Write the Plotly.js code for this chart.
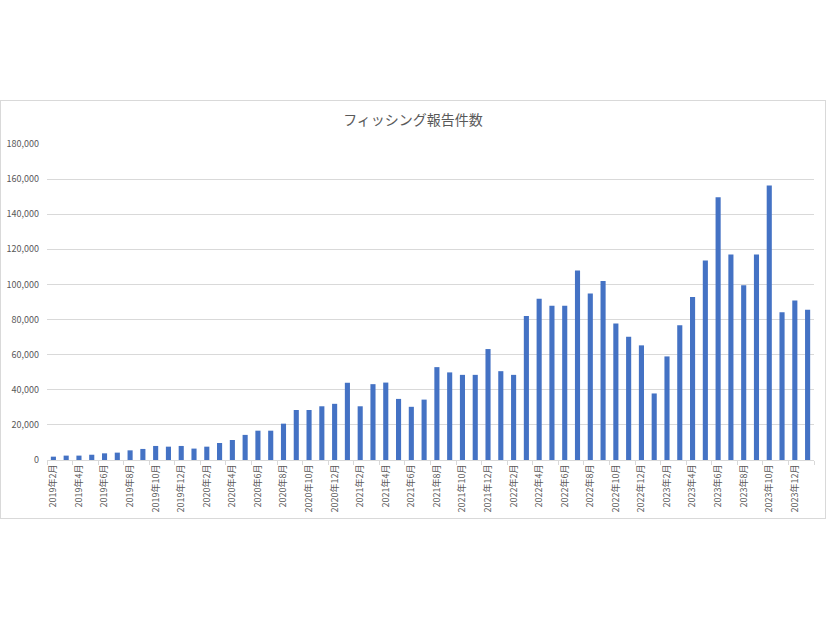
<!DOCTYPE html>
<html>
<head>
<meta charset="utf-8">
<script src="https://cdn.plot.ly/plotly-3.0.1.min.js"></script>
<style>
html,body{margin:0;padding:0;background:#fff;}
#wrap{position:absolute;left:0;top:100px;width:826px;height:419px;box-sizing:border-box;border:1px solid #d9d9d9;}
#chart{width:824px;height:417px;}
</style>
</head>
<body>
<div id="wrap"><div id="chart"></div></div>
<script>
const months = [
 "2019年2月","2019年3月","2019年4月","2019年5月","2019年6月","2019年7月","2019年8月","2019年9月","2019年10月","2019年11月","2019年12月",
 "2020年1月","2020年2月","2020年3月","2020年4月","2020年5月","2020年6月","2020年7月","2020年8月","2020年9月","2020年10月","2020年11月","2020年12月",
 "2021年1月","2021年2月","2021年3月","2021年4月","2021年5月","2021年6月","2021年7月","2021年8月","2021年9月","2021年10月","2021年11月","2021年12月",
 "2022年1月","2022年2月","2022年3月","2022年4月","2022年5月","2022年6月","2022年7月","2022年8月","2022年9月","2022年10月","2022年11月","2022年12月",
 "2023年1月","2023年2月","2023年3月","2023年4月","2023年5月","2023年6月","2023年7月","2023年8月","2023年9月","2023年10月","2023年11月","2023年12月",
 "2024年1月"
];
const reports = [
 1900,2500,2500,3000,3800,4200,5500,6300,8000,7600,8000,
 6500,7600,9700,11400,14300,16700,16700,20700,28500,28500,30600,32000,
 44000,30600,43200,44100,34800,30300,34400,52900,49900,48500,48500,63200,
 50600,48500,82000,91900,87900,87900,107900,94900,102000,77800,70200,65300,
 37900,59000,76700,92900,113600,149600,117000,99500,117000,156400,84100,90800,
 85600
];
const chartTitle = "フィッシング報告件数";
const yTicks = [0,20000,40000,60000,80000,100000,120000,140000,160000,180000];

const font = "'Noto Sans CJK JP', 'Noto Sans', sans-serif";
Plotly.newPlot('chart', [{
  type: 'bar',
  x: months,
  y: reports,
  marker: {color: '#4472C4'},
  hoverinfo: 'x+y'
}], {
  width: 824, height: 417,
  margin: {l: 46, r: 11, t: 43, b: 58},
  paper_bgcolor: '#ffffff', plot_bgcolor: '#ffffff',
  bargap: 0.6,
  showlegend: false,
  title: {text: chartTitle, x: 0.5, xanchor: 'center', y: 0.955, yanchor: 'middle',
          font: {family: font, size: 14, color: '#595959'}},
  xaxis: {
    type: 'category',
    tickmode: 'linear', tick0: 0, dtick: 2,
    tickson: 'boundaries',
    ticks: 'outside', ticklen: 4, tickcolor: '#d9d9d9', tickwidth: 1,
    tickangle: -90,
    tickfont: {family: font, size: 9, color: '#595959'},
    showgrid: false,
    showline: true, linecolor: '#d9d9d9', linewidth: 1,
    zeroline: false,
    fixedrange: true
  },
  yaxis: {
    range: [0, 180000],
    tickmode: 'array', tickvals: yTicks,
    tickformat: ',d',
    tickfont: {family: font, size: 9, color: '#595959'},
    showgrid: true, gridcolor: '#d9d9d9', gridwidth: 1,
    zeroline: false, showline: false,
    ticks: '', ticklabelstandoff: 7,
    fixedrange: true
  }
}, {displayModeBar: false, staticPlot: true});
</script>
</body>
</html>
